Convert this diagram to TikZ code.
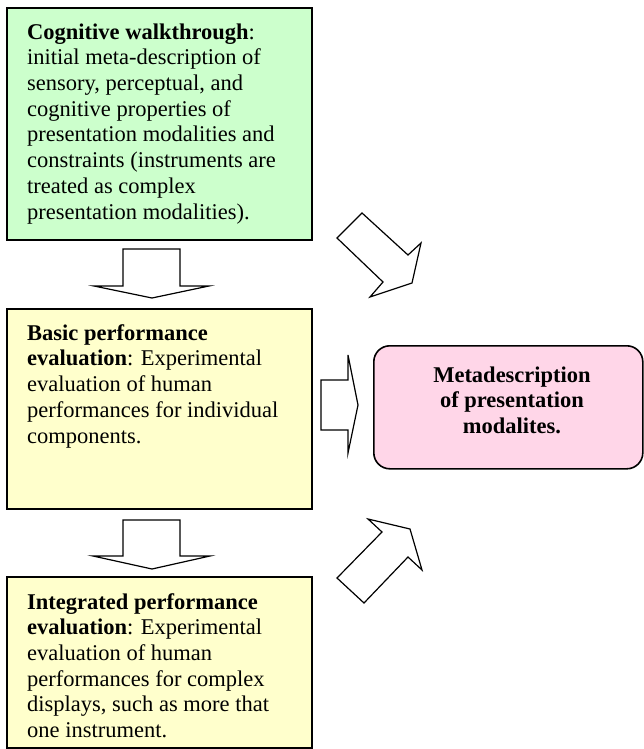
\documentclass[tikz,border=0pt]{standalone}
\usepackage{fontspec}
\setmainfont{Liberation Serif}
\definecolor{boxgreen}{RGB}{204,255,204}
\definecolor{boxyellow}{RGB}{255,255,204}
\definecolor{boxpink}{RGB}{255,214,232}
\begin{document}
\begin{tikzpicture}[x=1pt,y=-1pt,
  panel/.style={draw=black,line width=1.6pt,anchor=north west,inner sep=0pt,outer sep=0pt},
  bodytext/.style={anchor=base west,align=left,inner sep=0pt,
    font={\fontsize{22.5}{25.7}\selectfont}},
  blockarrow/.style={draw=black,line width=1.2pt,fill=white,line join=miter}]
\useasboundingbox (0,0) rectangle (644,749);

% stage boxes
\node[panel,fill=boxgreen,minimum width=305pt,minimum height=232pt] (walk) at (7,8) {};
\node[panel,fill=boxyellow,minimum width=305pt,minimum height=200pt] (basic) at (7,309) {};
\node[panel,fill=boxyellow,minimum width=305pt,minimum height=171pt] (integ) at (7,577) {};
\node[draw=black,line width=1.6pt,fill=boxpink,rounded corners=16pt,anchor=north west,
  inner sep=0pt,minimum width=269pt,minimum height=123pt] (meta) at (373,345) {};

% box texts (each node is placed by the baseline of its last line)
\node[bodytext] (walktext) at (27,219)
  {\textbf{Cognitive walkthrough}:\\ initial meta-description of\\ sensory, perceptual, and\\
   cognitive properties of\\ presentation modalities and\\ constraints (instruments are\\
   treated as complex\\ presentation modalities).};
\node[bodytext] (basictext) at (27,443)
  {\textbf{Basic performance}\\ \textbf{evaluation}: Experimental\\ evaluation of human\\
   performances for individual\\ components.};
\node[bodytext] (integtext) at (27,737.5)
  {\textbf{Integrated performance}\\ \textbf{evaluation}: Experimental\\ evaluation of human\\
   performances for complex\\ displays, such as more that\\ one instrument.};
\node[anchor=base,align=center,inner sep=0pt,font={\fontsize{22.5}{25.7}\selectfont\bfseries}]
  (metatext) at (512,433.5) {Metadescription\\ of presentation\\ modalites.};

% block arrows between the stages
\draw[blockarrow] (123,249) -- (180,249) -- (180,286) -- (209,286) -- (152,298)
  -- (94,286) -- (123,286) -- cycle;
\draw[blockarrow] (123,520) -- (180,520) -- (180,556) -- (210,556) -- (152,569)
  -- (93,556) -- (123,556) -- cycle;
\draw[blockarrow] (321,380) -- (348,380) -- (348,355) -- (358,405) -- (348,453)
  -- (348,430) -- (321,430) -- cycle;
\draw[blockarrow] (337,238) -- (362,213) -- (408,255) -- (421,243) -- (412,283)
  -- (370,297) -- (383,282) -- cycle;
\draw[blockarrow] (410,529) -- (368,519) -- (382,532) -- (337,578) -- (364,603)
  -- (408,557) -- (422,570) -- cycle;
\end{tikzpicture}
\end{document}
